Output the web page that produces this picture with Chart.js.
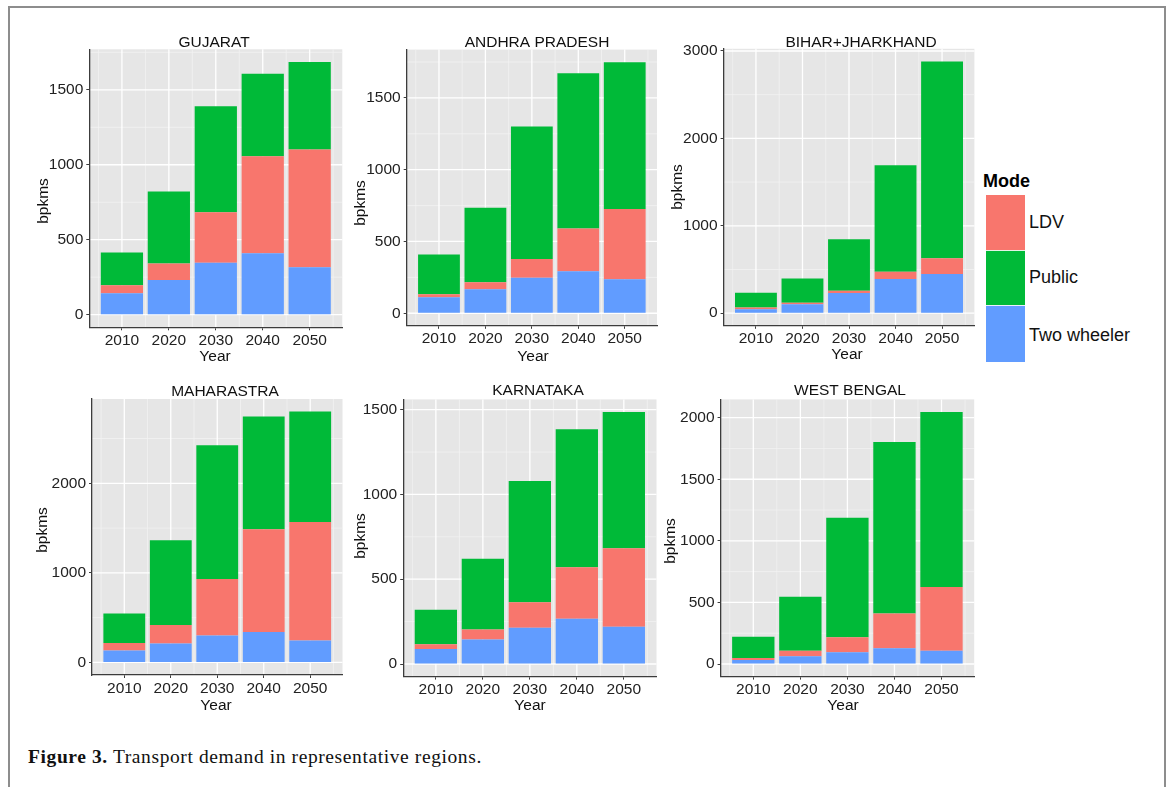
<!DOCTYPE html>
<html>
<head>
<meta charset="utf-8">
<title>Transport demand in representative regions</title>
<script src="https://cdn.jsdelivr.net/npm/chart.js@4.4.1/dist/chart.umd.min.js"></script>
<style>
  html, body { margin: 0; padding: 0; background: #fff; }
  body { position: relative; width: 1171px; height: 787px; overflow: hidden;
         font-family: "Liberation Sans", Arial, sans-serif; }
  #frame { position: absolute; left: 8px; top: 6px; width: 1158px; height: 800px;
           border: 2px solid #8d8d8d; border-bottom: none; box-sizing: border-box; }
  canvas { position: absolute; }
  .key { position: absolute; left: 986px; width: 39px; }
  .lab { position: absolute; left: 1029px; font-size: 18px; color: #111; line-height: 20px; }
  #modeTitle { position: absolute; left: 983px; top: 171px; font-size: 18px; font-weight: bold; color: #000; }
  #caption { position: absolute; left: 28px; top: 746px; font-family: "Liberation Serif", "Times New Roman", serif;
             font-size: 19.5px; letter-spacing: 0.6px; color: #111; white-space: nowrap; }
  #caption b { font-weight: bold; }
</style>
</head>
<body>
<div id="frame"></div>

<div id="modeTitle">Mode</div>
<div class="key" style="top:195px;height:55px;background:#F8766D"></div>
<div class="key" style="top:250px;height:55px;background:#00BA38;border-top:1px solid #e6f2e6;box-sizing:border-box"></div>
<div class="key" style="top:305px;height:57px;background:#619CFF;border-top:1px solid #eaf0fb;box-sizing:border-box"></div>
<div class="lab" style="top:212px">LDV</div>
<div class="lab" style="top:267px">Public</div>
<div class="lab" style="top:325px">Two wheeler</div>

<div id="caption"><b>Figure 3.</b> Transport demand in representative regions.</div>

<script>
// ---- data (billion passenger-km by mode) ----
const years = [2010, 2020, 2030, 2040, 2050];
const regions = ['GUJARAT', 'ANDHRA PRADESH', 'BIHAR+JHARKHAND', 'MAHARASTRA', 'KARNATAKA', 'WEST BENGAL'];

// one row per region, in the order of `regions`
const twoWheeler = [
  [143, 232, 347, 410, 316],
  [112, 167, 247, 293, 237],
  [46, 103, 230, 391, 448],
  [134, 212, 302, 339, 246],
  [88, 144, 214, 267, 220],
  [32, 62, 95, 127, 108]
];
const ldv = [
  [53, 109, 337, 646, 786],
  [21, 49, 130, 298, 489],
  [19, 16, 27, 84, 180],
  [82, 205, 629, 1147, 1322],
  [28, 60, 150, 303, 462],
  [17, 46, 122, 284, 517]
];
const publicMode = [
  [218, 481, 706, 552, 584],
  [276, 519, 923, 1081, 1023],
  [169, 279, 590, 1218, 2253],
  [331, 946, 1494, 1259, 1233],
  [204, 417, 715, 814, 804],
  [173, 439, 971, 1391, 1421]
];

// y-axis tick labels for each panel
const yTicks = [
  [0, 500, 1000, 1500],
  [0, 500, 1000, 1500],
  [0, 1000, 2000, 3000],
  [0, 1000, 2000],
  [0, 500, 1000, 1500],
  [0, 500, 1000, 1500, 2000]
];

const modeNames = ['Two wheeler', 'LDV', 'Public'];
const modeColors = ['#619CFF', '#F8766D', '#00BA38'];

// ---- panel placement on the page (plot rectangle and text anchors) ----
const panels = [
  { l: 89.3,  t: 49.3,  r: 342.3, b: 327.3, titleX: 214, titleY: 46.7, yLabX: 44,  yLabY: 201, xLabX: 215, xLabY: 361 },
  { l: 406.7, t: 49.6,  r: 657.0, b: 325.8, titleX: 537, titleY: 47.0, yLabX: 361, yLabY: 203, xLabX: 533, xLabY: 361 },
  { l: 723.6, t: 48.8,  r: 974.4, b: 325.8, titleX: 861, titleY: 47.0, yLabX: 678, yLabY: 187, xLabX: 847, xLabY: 359 },
  { l: 92.0,  t: 399.0, r: 342.5, b: 675.0, titleX: 225, titleY: 395.5, yLabX: 42.5, yLabY: 530, xLabX: 216, xLabY: 710 },
  { l: 403.2, t: 399.4, r: 656.5, b: 676.6, titleX: 538, titleY: 395.0, yLabX: 361, yLabY: 536, xLabX: 530, xLabY: 710 },
  { l: 720.6, t: 399.4, r: 974.2, b: 676.6, titleX: 850, titleY: 395.0, yLabX: 671, yLabY: 541, xLabX: 843, xLabY: 710 }
];

Chart.defaults.font.family = '"Liberation Sans", Arial, sans-serif';

const TEXT = '#111111';
const TICK_TEXT = '#222222';
const AXIS = '#3c3c3c';
const FONT_PX = 15.5;

// grey panel, white grid (major + minor), and the panel's texts
const panelDecor = {
  id: 'panelDecor',
  beforeDraw(chart, args, opts) {
    const { ctx, chartArea: a, scales } = chart;
    const xs = scales.x, ys = scales.y;
    ctx.save();
    ctx.fillStyle = '#E6E6E6';
    ctx.fillRect(a.left, a.top, a.right - a.left, a.bottom - a.top);
    const vLine = (px, w, c) => {
      ctx.strokeStyle = c; ctx.lineWidth = w;
      ctx.beginPath(); ctx.moveTo(px, a.top); ctx.lineTo(px, a.bottom); ctx.stroke();
    };
    const hLine = (py, w, c) => {
      ctx.strokeStyle = c; ctx.lineWidth = w;
      ctx.beginPath(); ctx.moveTo(a.left, py); ctx.lineTo(a.right, py); ctx.stroke();
    };
    // minor lines half-way between breaks
    const xStep = years[1] - years[0];
    for (let v = years[0] - xStep / 2; v <= years[years.length - 1] + xStep / 2; v += xStep) {
      const px = xs.getPixelForValue(v);
      if (px > a.left && px < a.right) vLine(px, 0.7, '#F4F4F4');
    }
    const yt = opts.ticks;
    const yStep = yt[1] - yt[0];
    for (let v = yt[0] - yStep / 2; v <= yt[yt.length - 1] + yStep / 2; v += yStep) {
      const py = ys.getPixelForValue(v);
      if (py > a.top && py < a.bottom) hLine(py, 0.7, '#F4F4F4');
    }
    // major lines
    years.forEach(v => vLine(xs.getPixelForValue(v), 1.3, '#FFFFFF'));
    yt.forEach(v => hLine(ys.getPixelForValue(v), 1.3, '#FFFFFF'));
    ctx.restore();
  },
  afterDraw(chart, args, opts) {
    const { ctx } = chart;
    const p = opts.panel, ox = opts.ox, oy = opts.oy;
    ctx.save();
    ctx.fillStyle = TEXT;
    ctx.font = FONT_PX + 'px "Liberation Sans", Arial, sans-serif';
    ctx.textAlign = 'center';
    ctx.textBaseline = 'alphabetic';
    ctx.fillText(opts.title, p.titleX - ox, p.titleY - oy);
    ctx.fillText('Year', p.xLabX - ox, p.xLabY - oy);
    ctx.translate(p.yLabX - ox, p.yLabY - oy);
    ctx.rotate(-Math.PI / 2);
    ctx.textBaseline = 'middle';
    ctx.fillText('bpkms', 0, 0);
    ctx.restore();
  }
};

regions.forEach((name, i) => {
  const p = panels[i];
  const canvas = document.createElement('canvas');
  const left = Math.floor(p.l) - 62;
  const top = Math.floor(p.t) - 30;
  const width = Math.ceil(p.r) + 12 - left;
  const height = Math.ceil(p.b) + 42 - top;
  canvas.width = width; canvas.height = height;
  canvas.style.left = left + 'px'; canvas.style.top = top + 'px';
  canvas.style.width = width + 'px'; canvas.style.height = height + 'px';
  document.body.appendChild(canvas);

  const padL = p.l - left, padT = p.t - top;
  const padR = width - (p.r - left), padB = height - (p.b - top);

  const series = [twoWheeler[i], ldv[i], publicMode[i]];
  const totals = years.map((_, k) => series.reduce((s, arr) => s + arr[k], 0));
  const yMax = Math.max(...totals);
  const xStep = years[1] - years[0];
  const xSpan = years[years.length - 1] - years[0] + 0.9 * xStep;
  const xPad = 0.05 * xSpan + 0.45 * xStep;

  new Chart(canvas, {
    type: 'bar',
    data: {
      labels: years,
      datasets: series.map((vals, k) => ({
        label: modeNames[k],
        data: vals,
        backgroundColor: modeColors[k],
        borderWidth: 0,
        barPercentage: 0.9,
        categoryPercentage: 1.0
      }))
    },
    options: {
      responsive: false,
      animation: false,
      devicePixelRatio: 1,
      layout: { padding: { left: 0, top: padT, right: padR, bottom: 0 } },
      plugins: {
        legend: { display: false },
        tooltip: { enabled: false },
        title: { display: false },
        panelDecor: { panel: p, ox: left, oy: top, title: name, ticks: yTicks[i] }
      },
      scales: {
        x: {
          type: 'linear',
          stacked: true,
          offset: false,
          min: years[0] - xPad,
          max: years[years.length - 1] + xPad,
          afterBuildTicks: s => { s.ticks = years.map(v => ({ value: v })); },
          afterFit: s => { s.height = padB; },
          ticks: { color: TICK_TEXT, font: { size: FONT_PX }, padding: 1, maxRotation: 0, autoSkip: false,
                   callback: v => String(v) },
          grid: { offset: false, drawOnChartArea: false, drawTicks: true, tickLength: 3, tickColor: AXIS, tickWidth: 1 },
          border: { display: true, color: AXIS, width: 1.3 }
        },
        y: {
          type: 'linear',
          stacked: true,
          min: -0.05 * yMax,
          max: 1.05 * yMax,
          afterBuildTicks: s => { s.ticks = yTicks[i].map(v => ({ value: v })); },
          afterFit: s => { s.width = padL; },
          ticks: { color: TICK_TEXT, font: { size: FONT_PX }, padding: 3, autoSkip: false,
                   callback: v => String(v) },
          grid: { offset: false, drawOnChartArea: false, drawTicks: true, tickLength: 3, tickColor: AXIS, tickWidth: 1 },
          border: { display: true, color: AXIS, width: 1.3 }
        }
      }
    },
    plugins: [panelDecor]
  });
});
</script>
</body>
</html>
